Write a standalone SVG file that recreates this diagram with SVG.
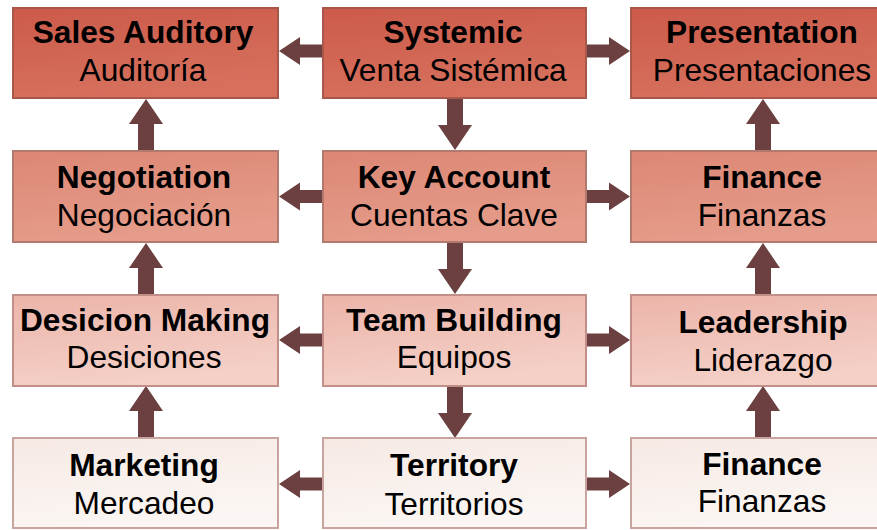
<svg xmlns="http://www.w3.org/2000/svg" xmlns:xlink="http://www.w3.org/1999/xlink" width="877" height="530" viewBox="0 0 877 530">
  <style>
    .box { stroke-width: 2; }
    .r1 { fill: url(#g1); stroke: #a9574b; }
    .r2 { fill: url(#g2); stroke: #b27a6f; }
    .r3 { fill: url(#g3); stroke: #c18f87; }
    .r4 { fill: url(#g4); stroke: #c9a39d; }
    .title { font-family: "Liberation Sans", Arial, sans-serif; font-weight: bold; font-size: 31.7px; fill: #000; text-anchor: middle; }
    .sub { font-family: "Liberation Sans", Arial, sans-serif; font-size: 31.7px; fill: #000; text-anchor: middle; }
    .arrow { fill: #6c4040; }
  </style>
  <defs>
    <linearGradient id="g1" x1="0" y1="0" x2="0.3" y2="1">
      <stop offset="0" stop-color="#cc5a4a"/>
      <stop offset="1" stop-color="#d6705d"/>
    </linearGradient>
    <linearGradient id="g2" x1="0" y1="0" x2="0.3" y2="1">
      <stop offset="0" stop-color="#dd8775"/>
      <stop offset="1" stop-color="#e59c8a"/>
    </linearGradient>
    <linearGradient id="g3" x1="0" y1="0" x2="0.3" y2="1">
      <stop offset="0" stop-color="#ecb4a9"/>
      <stop offset="1" stop-color="#f4d0c7"/>
    </linearGradient>
    <linearGradient id="g4" x1="0" y1="0" x2="0.3" y2="1">
      <stop offset="0" stop-color="#f6e9e4"/>
      <stop offset="1" stop-color="#fbf6f3"/>
    </linearGradient>
    <!-- block arrow pointing right: tail at x=0, tip at x=44 -->
    <path id="arrow-h" d="M0,-6.5 H23 V-14 L44,0 L23,14 V6.5 H0 Z"/>
    <!-- block arrow pointing down: tail at y=0, tip at y=52 -->
    <path id="arrow-v" d="M-8,0 H8 V27 H17 L0,52 L-17,27 H-8 Z"/>
  </defs>

  <rect width="877" height="530" fill="#ffffff"/>

  <g id="connectors" class="arrow">
    <!-- horizontal: centre column outwards -->
    <use xlink:href="#arrow-h" transform="translate(323,51) scale(-1,1)"/>
    <use xlink:href="#arrow-h" transform="translate(586,51)"/>
    <use xlink:href="#arrow-h" transform="translate(323,196.5) scale(-1,1)"/>
    <use xlink:href="#arrow-h" transform="translate(586,196.5)"/>
    <use xlink:href="#arrow-h" transform="translate(323,340) scale(-1,1)"/>
    <use xlink:href="#arrow-h" transform="translate(586,340)"/>
    <use xlink:href="#arrow-h" transform="translate(323,484) scale(-1,1)"/>
    <use xlink:href="#arrow-h" transform="translate(586,484)"/>
    <!-- centre column, downwards -->
    <use xlink:href="#arrow-v" transform="translate(455,98)"/>
    <use xlink:href="#arrow-v" transform="translate(455,242)"/>
    <use xlink:href="#arrow-v" transform="translate(455,386)"/>
    <!-- left column, upwards -->
    <use xlink:href="#arrow-v" transform="translate(146,151) scale(1,-1)"/>
    <use xlink:href="#arrow-v" transform="translate(146,295) scale(1,-1)"/>
    <use xlink:href="#arrow-v" transform="translate(146,438) scale(1,-1)"/>
    <!-- right column, upwards -->
    <use xlink:href="#arrow-v" transform="translate(763,151) scale(1,-1)"/>
    <use xlink:href="#arrow-v" transform="translate(763,295) scale(1,-1)"/>
    <use xlink:href="#arrow-v" transform="translate(763,438) scale(1,-1)"/>
  </g>

  <!-- row 1 -->
  <g id="sales-auditory">
    <rect class="box r1" x="13" y="8" width="265" height="90"/>
    <text class="title" x="143" y="43">Sales Auditory</text>
    <text class="sub" x="143" y="81">Auditoría</text>
  </g>
  <g id="systemic">
    <rect class="box r1" x="323" y="8" width="263" height="90"/>
    <text class="title" x="453" y="43">Systemic</text>
    <text class="sub" x="453" y="81">Venta Sistémica</text>
  </g>
  <g id="presentation">
    <rect class="box r1" x="631" y="8" width="265" height="90"/>
    <text class="title" x="762" y="43">Presentation</text>
    <text class="sub" x="762" y="81">Presentaciones</text>
  </g>

  <!-- row 2 -->
  <g id="negotiation">
    <rect class="box r2" x="13" y="151" width="265" height="91"/>
    <text class="title" x="144" y="188">Negotiation</text>
    <text class="sub" x="144" y="226">Negociación</text>
  </g>
  <g id="key-account">
    <rect class="box r2" x="323" y="151" width="263" height="91"/>
    <text class="title" x="454" y="188">Key Account</text>
    <text class="sub" x="454" y="226">Cuentas Clave</text>
  </g>
  <g id="finance-top">
    <rect class="box r2" x="631" y="151" width="265" height="91"/>
    <text class="title" x="762" y="188">Finance</text>
    <text class="sub" x="762" y="226">Finanzas</text>
  </g>

  <!-- row 3 -->
  <g id="decision-making">
    <rect class="box r3" x="13" y="295" width="265" height="91"/>
    <text class="title" x="145" y="331">Desicion Making</text>
    <text class="sub" x="144" y="368">Desiciones</text>
  </g>
  <g id="team-building">
    <rect class="box r3" x="323" y="295" width="263" height="91"/>
    <text class="title" x="454" y="331">Team Building</text>
    <text class="sub" x="454" y="368">Equipos</text>
  </g>
  <g id="leadership">
    <rect class="box r3" x="631" y="295" width="265" height="91"/>
    <text class="title" x="763" y="333">Leadership</text>
    <text class="sub" x="763" y="371">Liderazgo</text>
  </g>

  <!-- row 4 -->
  <g id="marketing">
    <rect class="box r4" x="13" y="438" width="265" height="90"/>
    <text class="title" x="144" y="476">Marketing</text>
    <text class="sub" x="144" y="514">Mercadeo</text>
  </g>
  <g id="territory">
    <rect class="box r4" x="323" y="438" width="263" height="90"/>
    <text class="title" x="454" y="476">Territory</text>
    <text class="sub" x="454" y="515">Territorios</text>
  </g>
  <g id="finance-bottom">
    <rect class="box r4" x="631" y="438" width="265" height="90"/>
    <text class="title" x="762" y="475">Finance</text>
    <text class="sub" x="762" y="512">Finanzas</text>
  </g>
</svg>
